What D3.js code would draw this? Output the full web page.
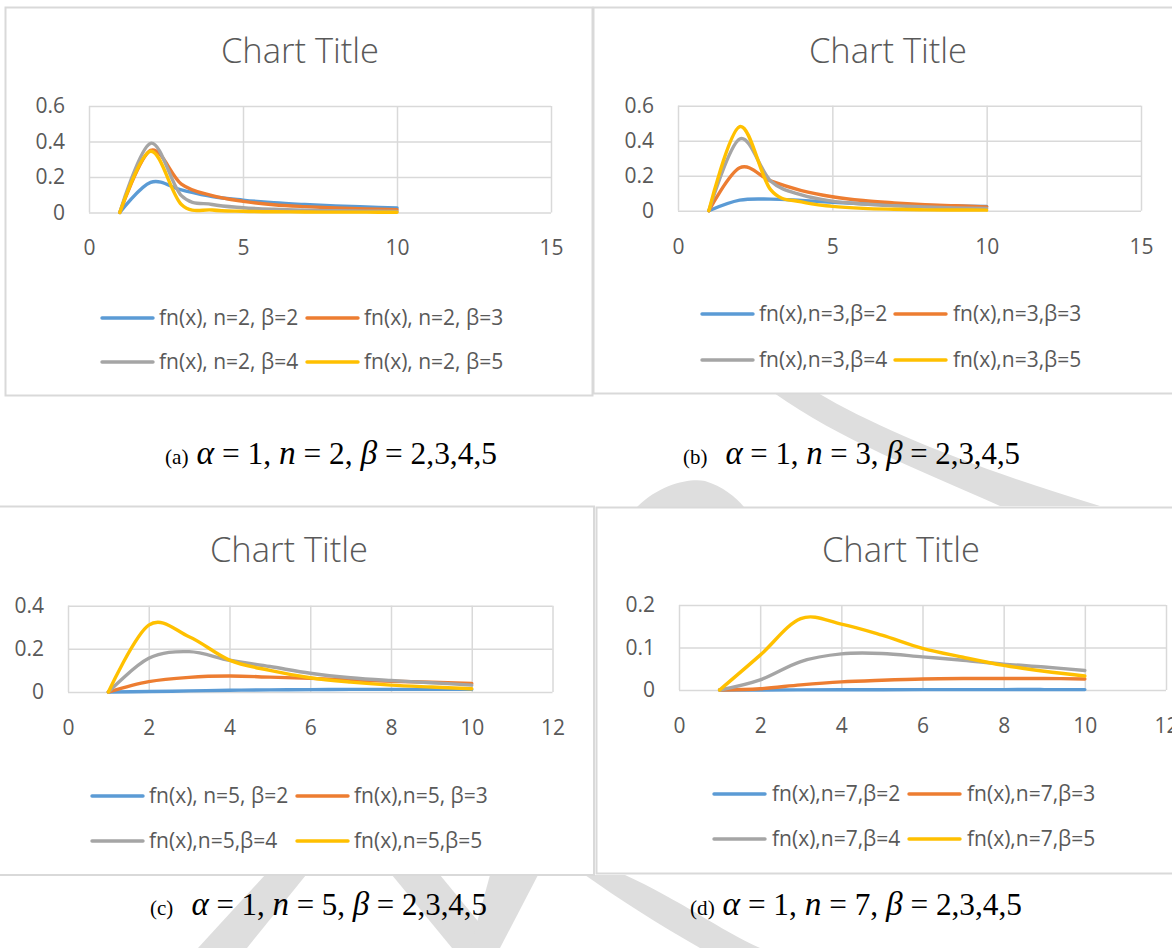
<!DOCTYPE html>
<html><head><meta charset="utf-8">
<script src="https://cdn.jsdelivr.net/npm/d3@7"></script>
<style>body{margin:0;background:#fff;overflow:hidden}</style>
</head><body><svg id="c" width="1172" height="948"></svg>
<script>
// ---------- data ----------
const xValues = [1,2,3,4,5,6,7,8,9,10];
// (a) n=2
const n2_beta2 = [0,0.17,0.127,0.09,0.07,0.055,0.045,0.037,0.031,0.026];
const n2_beta3 = [0,0.35,0.16,0.095,0.063,0.044,0.033,0.025,0.02,0.016];
const n2_beta4 = [0,0.39,0.095,0.045,0.027,0.018,0.013,0.01,0.008,0.006];
const n2_beta5 = [0,0.345,0.045,0.014,0.007,0.004,0.003,0.002,0.002,0.001];
// (b) n=3
const n3_beta2 = [0,0.06,0.066,0.058,0.048,0.04,0.034,0.03,0.027,0.025];
const n3_beta3 = [0,0.245,0.17,0.115,0.08,0.058,0.045,0.035,0.028,0.022];
const n3_beta4 = [0,0.41,0.17,0.09,0.055,0.038,0.028,0.021,0.016,0.013];
const n3_beta5 = [0,0.48,0.12,0.05,0.025,0.013,0.008,0.005,0.004,0.003];
// (c) n=5
const n5_beta2 = [0,0.002,0.005,0.008,0.01,0.011,0.012,0.012,0.012,0.012];
const n5_beta3 = [0,0.048,0.068,0.074,0.069,0.063,0.056,0.05,0.045,0.04];
const n5_beta4 = [0,0.156,0.187,0.147,0.118,0.087,0.066,0.053,0.043,0.032];
const n5_beta5 = [0,0.31,0.256,0.148,0.1,0.066,0.046,0.032,0.023,0.015];
// (d) n=7
const n7_beta2 = [0,0,0.0003,0.0005,0.0007,0.0008,0.0009,0.001,0.001,0.001];
const n7_beta3 = [0,0.003,0.012,0.019,0.023,0.026,0.027,0.027,0.027,0.026];
const n7_beta4 = [0,0.024,0.067,0.085,0.086,0.078,0.07,0.061,0.054,0.046];
const n7_beta5 = [0,0.082,0.168,0.155,0.129,0.098,0.077,0.058,0.044,0.033];

const xTicks15 = [0,5,10,15];
const xTicks12 = [0,2,4,6,8,10,12];
const yTicksA = [0,0.2,0.4,0.6];
const yTicksC = [0,0.2,0.4];
const yTicksD = [0,0.1,0.2];

const legendA = ["fn(x), n=2, β=2","fn(x), n=2, β=3","fn(x), n=2, β=4","fn(x), n=2, β=5"];
const legendB = ["fn(x),n=3,β=2","fn(x),n=3,β=3","fn(x),n=3,β=4","fn(x),n=3,β=5"];
const legendC = ["fn(x), n=5, β=2","fn(x),n=5, β=3","fn(x),n=5,β=4","fn(x),n=5,β=5"];
const legendD = ["fn(x),n=7,β=2","fn(x),n=7,β=3","fn(x),n=7,β=4","fn(x),n=7,β=5"];

const chartTitle = "Chart Title";
const colors = ["#5B9BD5","#ED7D31","#A5A5A5","#FFC000"];

// ---------- layout ----------
const svg = d3.select("#c");
const wm = "#dedede";

// watermark (behind panels)
const wmPaths = [
  "M774,393 L818,393 C880,430 980,470 1100,506 L1000,506 C920,470 840,440 774,393 Z",
  "M637,507 C660,484 690,478 705,481 C722,486 736,497 744,507 Z",
  "M265,875 L306,875 L247,948 L198,948 Z",
  "M392,875 L440,875 L500,948 L452,948 Z",
  "M490,875 L538,875 L500,948 L470,948 Z",
  "M585,875 L625,875 C680,900 720,930 760,948 L700,948 C660,925 620,900 585,875 Z"
];
svg.append("g").selectAll("path").data(wmPaths).join("path").attr("d", d => d).attr("fill", wm);

const panels = [
  {box:[5.5,7.5,587,388], title:[300,63], xr:[89,551], yr:[212.5,106], xd:[0,15], yd:[0,0.6], xt:xTicks15, yt:yTicksA,
   series:[n2_beta2,n2_beta3,n2_beta4,n2_beta5], legend:legendA,
   leg:{rows:[318,362], cols:[[102,159],[307,364]]}},
  {box:[593.5,7.5,620,386], title:[888,63], xr:[678,1141], yr:[210.7,105.7], xd:[0,15], yd:[0,0.6], xt:xTicks15, yt:yTicksA,
   series:[n3_beta2,n3_beta3,n3_beta4,n3_beta5], legend:legendB,
   leg:{rows:[314,360], cols:[[702,759],[895,953]]}},
  {box:[-5,506.5,599,368.5], title:[289,562], xr:[68,552.5], yr:[692,605.7], xd:[0,12], yd:[0,0.4], xt:xTicks12, yt:yTicksC,
   series:[n5_beta2,n5_beta3,n5_beta4,n5_beta5], legend:legendC,
   leg:{rows:[796,841], cols:[[92,149],[297,354]]}},
  {box:[596.5,507.5,620,366], title:[901,562], xr:[679,1166], yr:[690,605], xd:[0,12], yd:[0,0.2], xt:xTicks12, yt:yTicksD,
   series:[n7_beta2,n7_beta3,n7_beta4,n7_beta5], legend:legendD,
   leg:{rows:[794,839], cols:[[714,772],[909,967]]}}
];

const fontUI = "'Open Sans', 'DejaVu Sans', sans-serif";
const txt = "#595959";
const grid = "#d9d9d9";

panels.forEach(p => {
  const g = svg.append("g");
  g.append("rect").attr("x", p.box[0]).attr("y", p.box[1]).attr("width", p.box[2]).attr("height", p.box[3])
    .attr("fill", "#fff").attr("stroke", grid).attr("stroke-width", 2);
  g.append("text").attr("x", p.title[0]).attr("y", p.title[1]).attr("text-anchor", "middle")
    .attr("font-family", fontUI).attr("font-size", 34.5).attr("font-weight", 300).attr("fill", txt).text(chartTitle);

  const x = d3.scaleLinear().domain(p.xd).range(p.xr);
  const y = d3.scaleLinear().domain(p.yd).range(p.yr);
  const w = p.xr[1] - p.xr[0], h = p.yr[0] - p.yr[1];

  const ya = g.append("g").attr("transform", `translate(${p.xr[0]},0)`)
    .call(d3.axisLeft(y).tickValues(p.yt).tickSize(-w).tickPadding(24).tickFormat(d => d === 0 ? "0" : String(+d.toFixed(2))));
  const xa = g.append("g").attr("transform", `translate(0,${p.yr[0]})`)
    .call(d3.axisBottom(x).tickValues(p.xt).tickSize(-h).tickPadding(28).tickFormat(d => String(d)));
  [ya, xa].forEach(a => {
    a.select(".domain").remove();
    a.selectAll("line").attr("stroke", grid).attr("stroke-width", 1.5);
    a.selectAll("text").attr("fill", txt).attr("font-family", fontUI).attr("font-size", 21);
  });

  const line = d3.line().x((d, i) => x(xValues[i])).y(d => y(d)).curve(d3.curveCardinal.tension(0));
  p.series.forEach((s, i) => {
    g.append("path").datum(s).attr("d", line).attr("fill", "none").attr("stroke", colors[i])
      .attr("stroke-width", 3.4).attr("stroke-linejoin", "round").attr("stroke-linecap", "round");
  });

  p.legend.forEach((lab, i) => {
    const row = Math.floor(i / 2), col = i % 2;
    const cy = p.leg.rows[row], c = p.leg.cols[col];
    g.append("line").attr("x1", c[0]).attr("x2", c[0] + 51).attr("y1", cy).attr("y2", cy)
      .attr("stroke", colors[i]).attr("stroke-width", 3.4).attr("stroke-linecap", "round");
    g.append("text").attr("x", c[1]).attr("y", cy).attr("dy", "0.35em").attr("font-family", fontUI)
      .attr("font-size", 21).attr("fill", txt).text(lab);
  });
});

// ---------- captions ----------
const captions = [
  {label:"(a)", n:"2", x:165, y:464, len:332},
  {label:"(b)  ", n:"3", x:683, y:464, len:337},
  {label:"(c)  ", n:"5", x:150, y:915, len:337},
  {label:"(d)", n:"7", x:690, y:915, len:332}
];
const serif = "'Liberation Serif', 'Times New Roman', serif";
captions.forEach(c => {
  const t = svg.append("text").attr("x", c.x).attr("y", c.y).attr("font-family", serif).attr("fill", "#000")
    .attr("textLength", c.len).attr("lengthAdjust", "spacingAndGlyphs").attr("xml:space", "preserve");
  const parts = [
    [c.label, 21, false], [" ", 31, false], ["α", 33, true], [" = 1, ", 31, false], ["n", 33, true],
    [" = " + c.n + ", ", 31, false], ["β", 33, true], [" = 2,3,4,5", 31, false]
  ];
  parts.forEach(([s, fs, it]) => t.append("tspan").attr("font-size", fs).attr("font-style", it ? "italic" : "normal").text(s));
});
</script></body></html>
